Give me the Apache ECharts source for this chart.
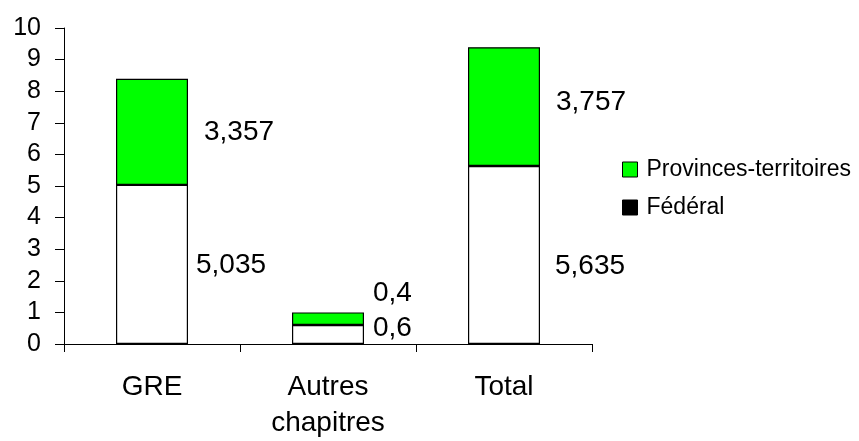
<!DOCTYPE html>
<html>
<head>
<meta charset="utf-8">
<script src="https://cdn.jsdelivr.net/npm/echarts@6/dist/echarts.min.js"></script>
<style>
  html, body { margin: 0; padding: 0; background: #fff; }
  #chart { width: 859px; height: 441px; }
</style>
</head>
<body>
<div id="chart"></div>
<script>
// Categories and stacked values (in billions)
const categories = ['GRE', 'Autres\nchapitres', 'Total'];
const federal = [5.035, 0.6, 5.635];
const provinces = [3.357, 0.4, 3.757];
const yTicks = { min: 0, max: 10, step: 1 };

// Label placement beside each segment
const federalLabelOffsets = [[8, 1], [9, -6], [15, 11]];
const provincesLabelOffsets = [[16, 0], [9, -25], [16, -4]];

const FONT = '"Liberation Sans", Arial, sans-serif';
const fmt = v => String(v).replace('.', ',');

function withLabels(values, offsets) {
  return values.map((v, i) => ({
    value: v,
    label: { offset: offsets[i] }
  }));
}

const chart = echarts.init(document.getElementById('chart'), null, { renderer: 'canvas' });

chart.setOption({
  animation: false,
  backgroundColor: '#fff',
  grid: { left: 64, right: 267, top: 28, bottom: 93, containLabel: false },
  legend: {
    orient: 'vertical',
    left: 622,
    top: 158,
    itemWidth: 15,
    itemHeight: 15,
    itemGap: 15,
    padding: 0,
    icon: 'rect',
    textStyle: { fontFamily: FONT, fontSize: 23, color: '#000', padding: [0, 0, 0, 4] },
    data: [
      { name: 'Provinces-territoires', itemStyle: { color: '#00ff00', borderColor: '#000', borderWidth: 1 } },
      { name: 'Fédéral', itemStyle: { color: '#000', borderColor: '#000', borderWidth: 1 } }
    ]
  },
  xAxis: {
    type: 'category',
    data: categories,
    axisLine: { lineStyle: { color: '#000', width: 1 } },
    axisTick: { show: true, length: 8, alignWithLabel: false, lineStyle: { color: '#000' } },
    axisLabel: {
      fontFamily: FONT, fontSize: 28, color: '#000',
      lineHeight: 36, margin: 25, interval: 0
    }
  },
  yAxis: {
    type: 'value',
    min: yTicks.min,
    max: yTicks.max,
    interval: yTicks.step,
    axisLine: { show: true, lineStyle: { color: '#000', width: 1 } },
    axisTick: { show: true, length: 9, lineStyle: { color: '#000' } },
    splitLine: { show: false },
    axisLabel: { fontFamily: FONT, fontSize: 25, color: '#000', margin: 23 }
  },
  series: [
    {
      name: 'Fédéral',
      type: 'bar',
      stack: 'total',
      barWidth: 72,
      data: withLabels(federal, federalLabelOffsets),
      itemStyle: { color: '#fff', borderColor: '#000', borderWidth: 1.2 },
      label: {
        show: true, position: 'right', distance: 0,
        fontFamily: FONT, fontSize: 28, color: '#000',
        formatter: p => fmt(p.value)
      }
    },
    {
      name: 'Provinces-territoires',
      type: 'bar',
      stack: 'total',
      barWidth: 72,
      data: withLabels(provinces, provincesLabelOffsets),
      itemStyle: { color: '#00ff00', borderColor: '#000', borderWidth: 1.2 },
      label: {
        show: true, position: 'right', distance: 0,
        fontFamily: FONT, fontSize: 28, color: '#000',
        formatter: p => fmt(p.value)
      }
    }
  ]
});
</script>
</body>
</html>
